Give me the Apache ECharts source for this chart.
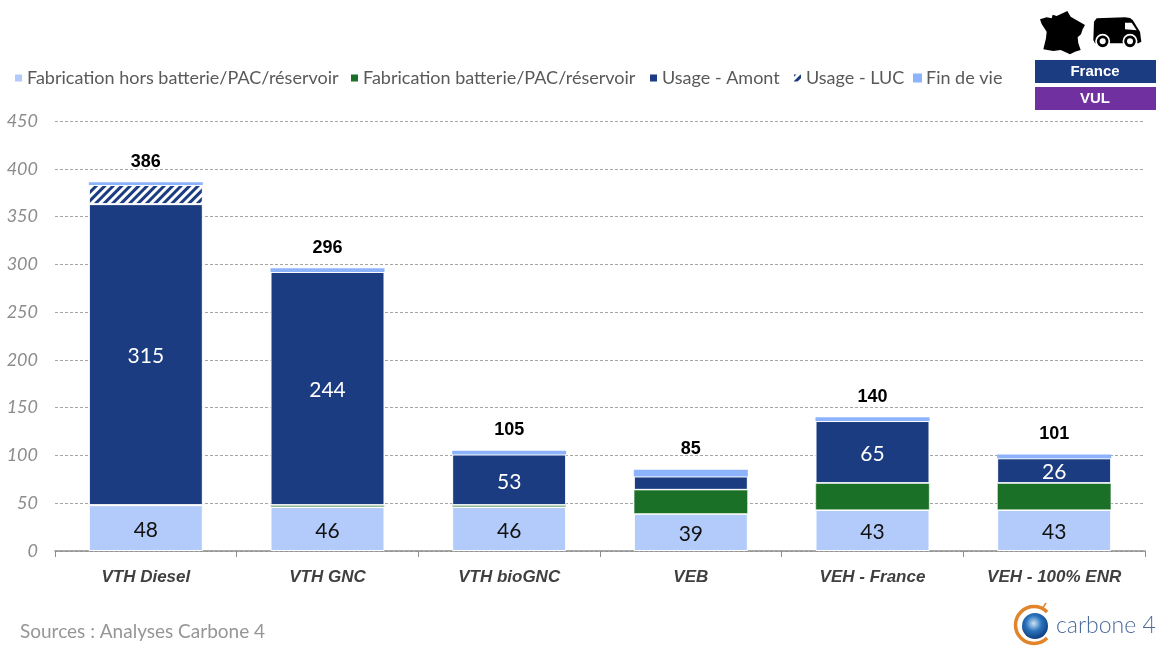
<!DOCTYPE html>
<html><head><meta charset="utf-8">
<style>html,body{margin:0;padding:0;background:#fff}#c{width:1158px;height:646px}</style>
<script src="https://cdn.jsdelivr.net/npm/echarts@6/dist/echarts.min.js"></script>
</head><body><div id="c"></div>
<script>
const categories = ['VTH Diesel','VTH GNC','VTH bioGNC','VEB','VEH - France','VEH - 100% ENR'];
const fabHors = [48,46,46,39,43,43];
const fabBatt = [null,2,2,25,28,28];
const usageAmont = [315,244,53,14,65,26];
const usageLuc = [20,null,null,null,null,null];
const finDeVie = [3,4,4,7,4,4];
const totals = [386,296,105,85,140,101];
const seriesNames = ['Fabrication hors batterie/PAC/réservoir','Fabrication batterie/PAC/réservoir','Usage - Amont','Usage - LUC','Fin de vie'];
const legendLefts = [13,349,648,792,913];
const yTicks = {min:0,max:450,interval:50};

const FONT = 'Lato';
const NAVY='#1B3C80', LIGHT='#B3CBFA', GREEN='#197026', SKY='#8DB3FC';
const chart = echarts.init(document.getElementById('c'),null,{renderer:'canvas'});
function bar(name,data,color,bw,extra){
  return Object.assign({name,type:'bar',stack:'t',data,barWidth:114,
    itemStyle:{color,borderColor:'#fff',borderWidth:bw}},extra||{});
}
const lab=(color,w)=>({show:true,position:'inside',offset:[0,2],color,fontFamily:FONT,fontSize:21,fontWeight:w,
  formatter:p=>p.value>=20?String(p.value):''});
chart.setOption({
  animation:false,
  title:{text:'Sources : Analyses Carbone 4',left:15,top:617,textStyle:{color:'#969696',fontFamily:FONT,fontSize:19,fontWeight:400}},
  legend:seriesNames.map((n,i)=>({data:[n],left:legendLefts[i],top:69,icon:'rect',itemWidth:9,itemHeight:9,itemGap:4,padding:0,
    textStyle:{color:'#595959',fontFamily:FONT,fontSize:18,padding:[0,0,0,-1]}})),
  grid:{left:55,right:13,top:121,height:430,containLabel:false},
  xAxis:{type:'category',data:categories,
    axisLine:{lineStyle:{color:'#8c8c8c',width:1.5}},
    axisTick:{show:true,alignWithLabel:false,length:6,lineStyle:{color:'#8c8c8c'}},
    axisLabel:{color:'#404040',fontFamily:'Liberation Sans',fontStyle:'italic',fontWeight:'bold',fontSize:17,margin:18}},
  yAxis:{type:'value',min:yTicks.min,max:yTicks.max,interval:yTicks.interval,
    axisLine:{show:false},axisTick:{show:false},
    axisLabel:{color:'#8c8c8c',fontFamily:FONT,fontStyle:'italic',fontSize:18,margin:17},
    splitLine:{lineStyle:{color:'#a6a6a6',type:[3,2],width:1}}},
  series:[
    bar(seriesNames[0],fabHors,LIGHT,1,{label:lab('#111',400)}),
    bar(seriesNames[1],fabBatt,GREEN,0.5),
    bar(seriesNames[2],usageAmont,NAVY,1,{label:lab('#fff',400)}),
    bar(seriesNames[3],usageLuc,'#fff',1,{itemStyle:{color:'#fff',borderColor:'#fff',borderWidth:1,
      decal:{symbol:'rect',color:NAVY,dashArrayX:[1,0],dashArrayY:[2.5,2.5],rotation:-Math.PI/4,symbolSize:1}}}),
    bar(seriesNames[4],finDeVie,SKY,0),
    {name:'Total',type:'line',data:totals,silent:true,symbol:'circle',symbolSize:1,lineStyle:{opacity:0},itemStyle:{color:'rgba(0,0,0,0)'},
      label:{show:true,position:'top',distance:11,color:'#000',fontFamily:'Liberation Sans',fontWeight:'bold',fontSize:18,formatter:p=>String(p.value)}}
  ],
  graphic:[
    {type:'group',x:780,y:0,scaleX:1/3,scaleY:1/3,silent:true,children:[
      {type:'polygon',shape:{points:[[780,58],[800,52],[815,55],[818,44],[830,48],[862,33],[872,50],[885,58],[915,75],[908,88],[903,103],[893,112],[895,130],[902,150],[885,155],[870,163],[842,150],[820,153],[790,148],[798,115],[800,95],[785,72]]},style:{fill:'#000'}},
      {type:'polygon',shape:{points:[[950,55],[1035,52],[1050,54],[1058,60],[1080,95],[1084,125],[1075,130],[945,130],[940,120],[942,65]]},style:{fill:'#000'}},
      {type:'polygon',shape:{points:[[1035,68],[1055,68],[1070,91],[1035,88]]},style:{fill:'#fff'}},
      {type:'circle',shape:{cx:968,cy:124,r:20},style:{fill:'#000',stroke:'#fff',lineWidth:5}},
      {type:'circle',shape:{cx:968,cy:124,r:9},style:{fill:'#fff'}},
      {type:'circle',shape:{cx:1050,cy:124,r:20},style:{fill:'#000',stroke:'#fff',lineWidth:5}},
      {type:'circle',shape:{cx:1050,cy:124,r:9},style:{fill:'#fff'}}
    ]},
    {type:'rect',shape:{x:1035,y:60,width:121,height:23},style:{fill:NAVY}},
    {type:'text',x:1095,y:71.5,style:{text:'France',fill:'#fff',font:'bold 15px "Liberation Sans"',align:'center',verticalAlign:'middle'}},
    {type:'rect',shape:{x:1035,y:87,width:121,height:23},style:{fill:'#7030A0'}},
    {type:'text',x:1095,y:98.5,style:{text:'VUL',fill:'#fff',font:'bold 15px "Liberation Sans"',align:'center',verticalAlign:'middle'}},
    {type:'circle',shape:{cx:1035,cy:626,r:13},style:{fill:new echarts.graphic.RadialGradient(0.45,0.4,0.6,[{offset:0,color:'#cfe3f4'},{offset:0.5,color:'#2a74bd'},{offset:1,color:'#0e3f80'}])}},
    {type:'arc',shape:{cx:1034,cy:625,r:18.5,startAngle:Math.PI*0.25,endAngle:Math.PI*1.75,clockwise:true},style:{stroke:'#E2852A',lineWidth:3.5,fill:'none'}},
    {type:'line',shape:{x1:1042,y1:609,x2:1046,y2:603},style:{stroke:'#E2852A',lineWidth:1.5}},
    {type:'text',x:1056,y:626,style:{text:'carbone 4',fill:'#4A6C9B',font:'300 23px Lato',verticalAlign:'middle'}}
  ]
});
</script></body></html>
